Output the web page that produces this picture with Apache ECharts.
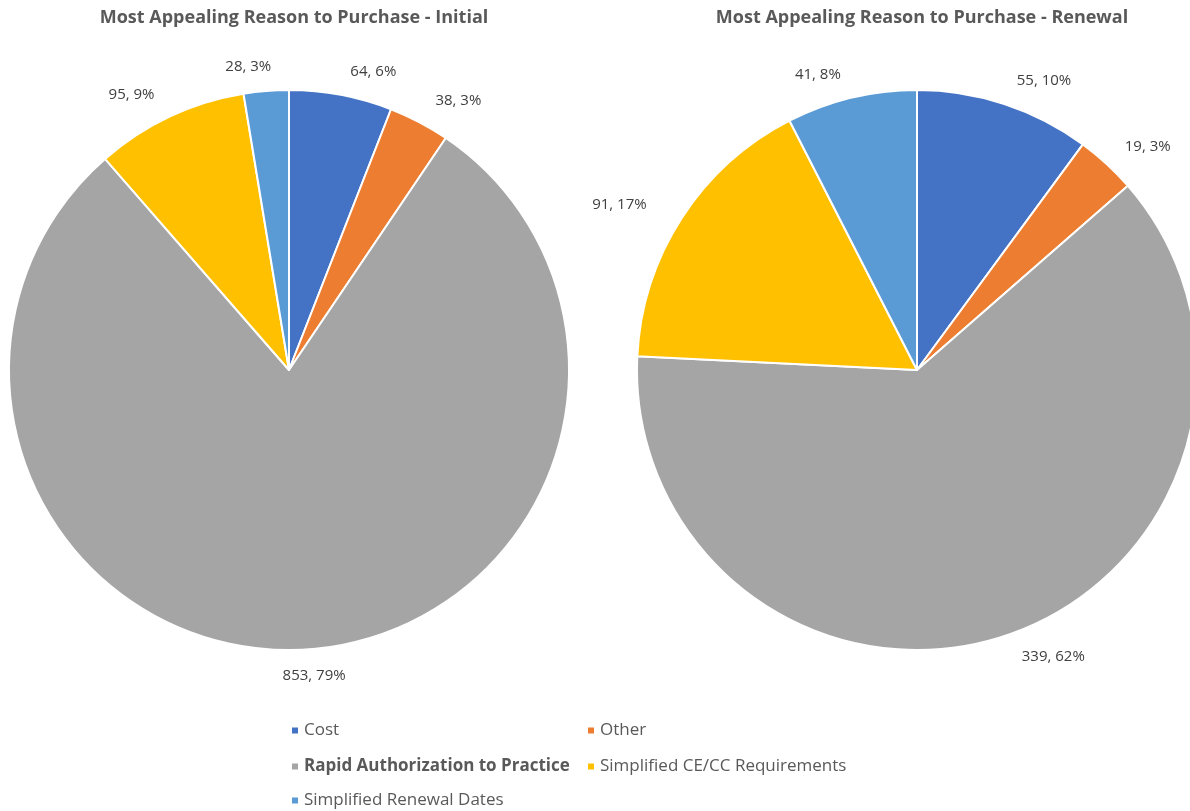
<!DOCTYPE html>
<html><head><meta charset="utf-8">
<script src="https://cdn.jsdelivr.net/npm/echarts@6/dist/echarts.min.js"></script>
<style>html,body{margin:0;padding:0;background:#fff}#c{width:1190px;height:811px}</style>
</head><body><div id="c"></div>
<script>
var categories = ['Cost', 'Other', 'Rapid Authorization to Practice', 'Simplified CE/CC Requirements', 'Simplified Renewal Dates'];
var colors = ['#4472C4', '#ED7D31', '#A5A5A5', '#FFC000', '#5B9BD5'];
var initialValues = [64, 38, 853, 95, 28];
var initialPct = ['6%', '3%', '79%', '9%', '3%'];
var renewalValues = [55, 19, 339, 91, 41];
var renewalPct = ['10%', '3%', '62%', '17%', '8%'];
var titles = ['Most Appealing Reason to Purchase - Initial', 'Most Appealing Reason to Purchase - Renewal'];

var FONT = '"Open Sans", "Noto Sans", sans-serif';
function mk(vals, pcts, labelOffsets) {
  return categories.map(function (c, i) {
    var d = { name: c, value: vals[i], pct: pcts[i], itemStyle: { color: colors[i] } };
    if (labelOffsets && labelOffsets[i]) d.label = { offset: labelOffsets[i] };
    return d;
  });
}
function series(vals, pcts, cx, labelOffsets) {
  return {
    type: 'pie', center: [cx, 370], radius: 280, startAngle: 90, clockwise: true,
    data: mk(vals, pcts, labelOffsets),
    itemStyle: { borderColor: '#fff', borderWidth: 2 },
    label: {
      show: true, position: 'outside', color: '#404040', fontSize: 15, fontFamily: FONT,
      formatter: function (p) { return p.value + ', ' + p.data.pct; }
    },
    labelLine: { show: false, length: 24, length2: 0 },
    emphasis: { disabled: true },
    animation: false
  };
}
var legendPos = [[287, 717], [583, 717], [287, 753], [583, 753], [287, 787]];
var legends = categories.map(function (c, i) {
  return {
    data: [c], left: legendPos[i][0] - 2, top: legendPos[i][1], icon: 'rect', itemWidth: 8, itemHeight: 8, itemGap: 6,
    textStyle: { fontSize: 17, color: '#595959', fontFamily: FONT, fontWeight: i === 2 ? 'bold' : 'normal' },
    selectedMode: false
  };
});
var chart = echarts.init(document.getElementById('c'));
chart.setOption({
  color: colors,
  title: [
    { text: titles[0], left: 289, top: 4, textAlign: 'center', textStyle: { fontSize: 18, fontWeight: 'bold', color: '#595959', fontFamily: FONT } },
    { text: titles[1], left: 917, top: 4, textAlign: 'center', textStyle: { fontSize: 18, fontWeight: 'bold', color: '#595959', fontFamily: FONT } }
  ],
  legend: legends,
  series: [
    series(initialValues, initialPct, 289, [null, null, [-30, 2], null, [12, 0]]),
    series(renewalValues, renewalPct, 917, [null, [-3, 0], null, [-10, 0], null])
  ]
});
</script></body></html>
